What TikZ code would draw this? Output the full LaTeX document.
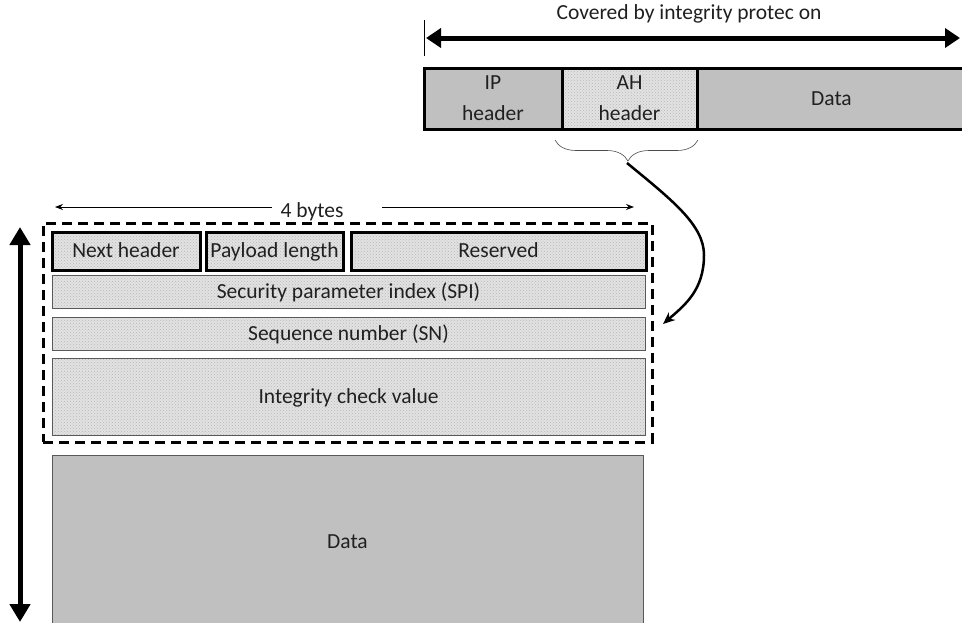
\documentclass[tikz,border=0pt]{standalone}
\usepackage{fontspec}
\setmainfont{Carlito}
\usetikzlibrary{arrows.meta,decorations.pathreplacing,patterns}
\definecolor{hdrgray}{HTML}{C0C0C0}
\definecolor{dotgray}{HTML}{E2E2E2}
\definecolor{dotdark}{HTML}{B8B8B8}
\definecolor{txt}{HTML}{202020}
\begin{document}
\begin{tikzpicture}[x=1pt,y=-1pt,
  every node/.style={font=\fontsize{21.5}{31}\selectfont, text=txt, inner sep=0pt, outer sep=0pt},
  oneline/.style={text height=15pt, text depth=2pt},
  thickbox/.style={draw=black, line width=3pt},
  thinbox/.style={draw=black!65, line width=0.8pt},
  solidfill/.style={fill=hdrgray},
  dotfill/.style={preaction={fill=dotgray}, pattern=crosshatch dots, pattern color=dotdark},
]
\useasboundingbox (0,0) rectangle (962,622);

% top packet
\node (ip) [thickbox, solidfill, minimum width=138pt, minimum height=61pt, align=center] at (493,98.5) {IP\\header};
\node (ah) [thickbox, dotfill, minimum width=135pt, minimum height=61pt, align=center] at (629.5,98.5) {AH\\header};
\node (tdata) [thickbox, solidfill, oneline, minimum width=269pt, minimum height=61pt] at (831.5,98.5) {Data};

% covered arrow
\node (cov) [oneline] at (689,13) {Covered by integrity protec on};
\coordinate (cl) at (426,38);
\coordinate (cr) at (960,38);
\draw[line width=1pt] (424,20) -- (424,56);
\draw[line width=5pt, {Triangle[length=15pt,width=19pt]}-{Triangle[length=15pt,width=19pt]}] (cl) -- (cr);

% brace
\draw[line width=0.6pt, draw=black!70, decorate, decoration={brace, amplitude=21pt, aspect=0.49}] (698,140) -- (555,140);
\coordinate (btip) at (627,163);

% 4 bytes
\node (fb) [oneline] at (312,211) {4 bytes};
\coordinate (fbl) at (55,207);
\coordinate (fbr) at (634,207);
\draw[line width=0.8pt, -{Stealth[length=8pt,width=6pt]}] (272,207) -- (fbl);
\draw[line width=0.8pt, -{Stealth[length=8pt,width=6pt]}] (382,207) -- (fbr);

% AH header rows
\node (nh) [thickbox, dotfill, oneline, minimum width=148pt, minimum height=38pt] at (126,251) {Next header};
\node (pl) [thickbox, dotfill, oneline, minimum width=137pt, minimum height=38pt] at (274.5,251) {Payload length};
\node (rs) [thickbox, dotfill, oneline, minimum width=295pt, minimum height=38pt] at (498.5,251) {Reserved};
\node (spi) [thinbox, dotfill, oneline, minimum width=593pt, minimum height=33pt] at (348.5,291.5) {Security parameter index (SPI)};
\node (sn) [thinbox, dotfill, oneline, minimum width=593pt, minimum height=33pt] at (348.5,333.5) {Sequence number (SN)};
\node (icv) [thinbox, dotfill, oneline, minimum width=593pt, minimum height=77pt] at (348.5,396.5) {Integrity check value};
\node (ahbox) [draw=black, line width=3pt, dash pattern=on 10pt off 6pt, minimum width=609pt, minimum height=219pt] at (347.5,332.5) {};

% data
\node (bdata) [thinbox, solidfill, oneline, minimum width=591pt, minimum height=174pt] at (347.5,542) {Data};

% curved arrow
\coordinate (cend) at (663,324);
\draw[line width=2.5pt, -{Stealth[length=12pt,width=10pt]}] (btip) .. controls (672,200) and (704,225) .. (704,255) .. controls (704,290) and (685,305) .. (cend);

% left vertical arrow
\coordinate (vt) at (20,227);
\coordinate (vb) at (20,622);
\draw[line width=5pt, {Triangle[length=18pt,width=20pt]}-{Triangle[length=18pt,width=20pt]}] (vt) -- (vb);
\end{tikzpicture}
\end{document}
